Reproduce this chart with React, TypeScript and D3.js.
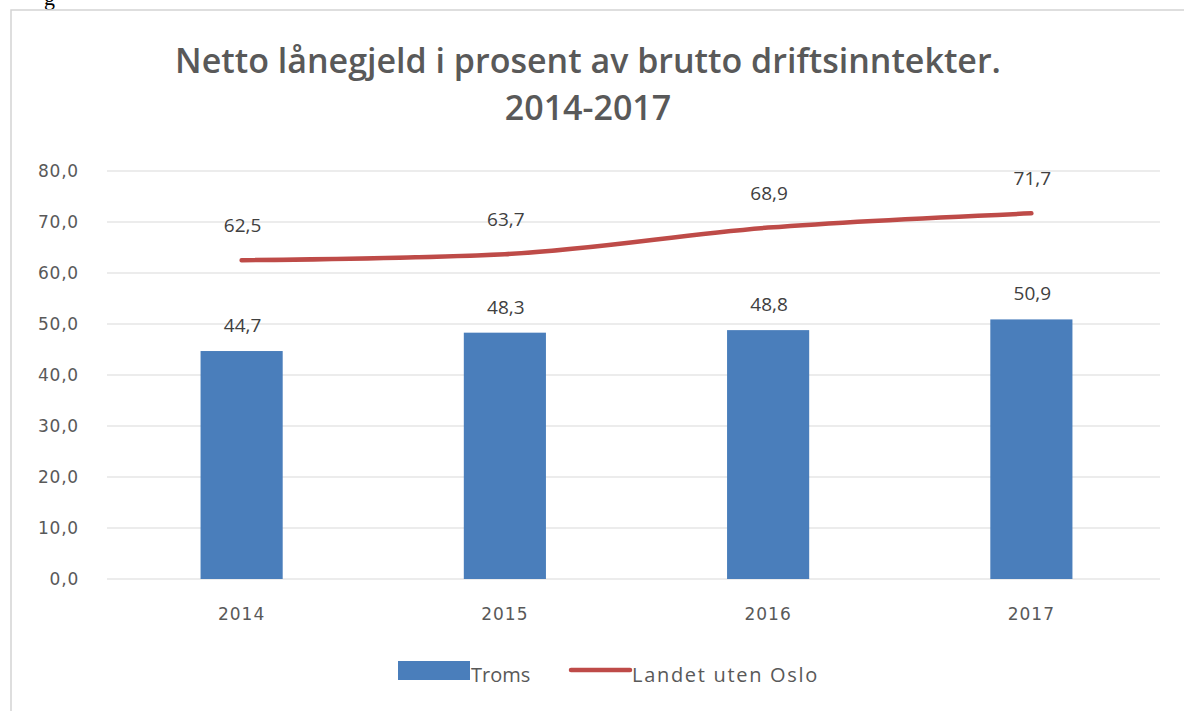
import React from "react";
import * as d3 from "d3";

const categories = ["2014", "2015", "2016", "2017"];
const troms = [44.7, 48.3, 48.8, 50.9];
const landet = [62.5, 63.7, 68.9, 71.7];
const yTicks = [0, 10, 20, 30, 40, 50, 60, 70, 80];
const titleLines = ["Netto lånegjeld i prosent av brutto driftsinntekter.", "2014-2017"];
const seriesNames = ["Troms", "Landet uten Oslo"];

const fmt = (v: number) => v.toFixed(1).replace(".", ",");

export default function App() {
  const W = 1184, H = 711;
  const left = 107, right = 1160, top = 171, bottom = 579;
  const x = d3.scaleBand().domain(categories).range([110, 1163]).paddingInner(0.688).paddingOuter(0.344);
  const y = d3.scaleLinear().domain([0, 80]).range([bottom, top]);
  const cx = (c: string) => (x(c) as number) + x.bandwidth() / 2;
  const line = d3.line<number>().x((_, i) => cx(categories[i])).y(d => y(d)).curve(d3.curveMonotoneX);
  const blue = "#4a7ebb";
  const red = "#be4b48";
  const textCol = "#595959";
  const font = "'Open Sans', 'Noto Sans', sans-serif";
  const axisFont = "'DejaVu Sans', sans-serif";
  return (
    <svg width={W} height={H} style={{ position: "absolute", left: 0, top: 0 }}>
      <rect width={W} height={H} fill="#fff" />
      <text x={44} y={5} fontFamily="'Liberation Serif', serif" fontSize={22} fill="#000">g</text>
      <rect x={11} y={10} width={1190} height={720} fill="#fff" stroke="#d4d4d4" strokeWidth={1.5} />
      {titleLines.map((t, i) => (
        <text key={i} x={588} y={73 + i * 47} textAnchor="middle" fontFamily={font} fontWeight={600} fontSize={34} fill={textCol}>{t}</text>
      ))}
      {yTicks.map(t => (
        <g key={t}>
          <line x1={left} x2={right} y1={y(t)} y2={y(t)} stroke="#d9d9d9" strokeWidth={1.2} />
          <text x={79} y={y(t) + 6} textAnchor="end" fontFamily={axisFont} fontSize={17} letterSpacing={0.8} fill={textCol}>{fmt(t)}</text>
        </g>
      ))}
      {categories.map((c, i) => (
        <g key={c}>
          <rect x={x(c)} y={y(troms[i])} width={x.bandwidth()} height={bottom - y(troms[i])} fill={blue} />
          <text x={cx(c) + 1} y={y(troms[i]) - 19} textAnchor="middle" fontFamily={font} fontSize={19} fill="#404040">{fmt(troms[i])}</text>
          <text x={cx(c)} y={620} textAnchor="middle" fontFamily={axisFont} fontSize={17} letterSpacing={1} fill={textCol}>{c}</text>
          <text x={cx(c) + 1} y={y(landet[i]) - 28} textAnchor="middle" fontFamily={font} fontSize={19} fill="#404040">{fmt(landet[i])}</text>
        </g>
      ))}
      <path d={line(landet) || ""} fill="none" stroke={red} strokeWidth={4.5} strokeLinecap="round" />
      <rect x={398} y={661} width={72} height={19} fill={blue} />
      <text x={471} y={682} fontFamily={font} fontSize={20} fill={textCol}>{seriesNames[0]}</text>
      <line x1={571} x2={630} y1={670} y2={670} stroke={red} strokeWidth={4.5} strokeLinecap="round" />
      <text x={632} y={682} fontFamily={font} fontSize={20} letterSpacing={1.7} fill={textCol}>{seriesNames[1]}</text>
    </svg>
  );
}
